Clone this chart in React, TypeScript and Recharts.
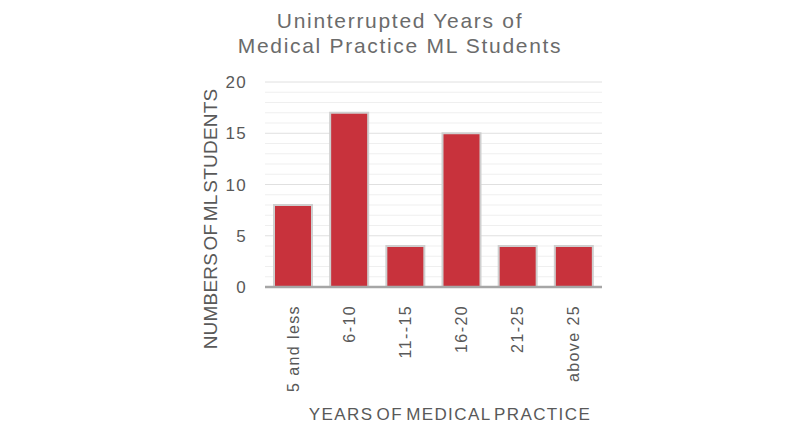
import React from "react";
import { BarChart, Bar, XAxis, YAxis, CartesianGrid } from "recharts";

const categories = ["5 and less", "6-10", "11--15", "16-20", "21-25", "above 25"];
const students = [8, 17, 4, 15, 4, 4];
const yTicks = [0, 5, 10, 15, 20];
const minorTicks = [1, 2, 3, 4, 6, 7, 8, 9, 11, 12, 13, 14, 16, 17, 18, 19];

const data = categories.map((c, i) => ({ name: c, value: students[i] }));

const FONT = "'Liberation Sans', Arial, Helvetica, sans-serif";
const TXT = "#595959";

const XTick = (props: any) => {
  const { x, y, payload } = props;
  return (
    <text
      x={x}
      y={y + 10}
      transform={`rotate(-90, ${x}, ${y + 10})`}
      textAnchor="end"
      dominantBaseline="central"
      fontFamily={FONT}
      fontSize={16}
      letterSpacing={1.4}
      fill={TXT}
    >
      {payload.value}
    </text>
  );
};

export default function App() {
  return (
    <div style={{ position: "absolute", left: 0, top: 0, width: 800, height: 438, background: "#fff" }}>
      <BarChart
        width={800}
        height={438}
        data={data}
        margin={{ top: 82, right: 198, bottom: 0, left: 0 }}
        barSize={38}
      >
        <CartesianGrid horizontalValues={minorTicks} vertical={false} stroke="#efefef" strokeWidth={1} />
        <CartesianGrid horizontalValues={yTicks} vertical={false} stroke="#e0e0e0" strokeWidth={1} />
        <XAxis
          dataKey="name"
          interval={0}
          tick={<XTick />}
          tickLine={false}
          axisLine={{ stroke: "#a6a6a6", strokeWidth: 2.5 }}
          height={151}
        />
        <YAxis
          width={265}
          domain={[0, 20]}
          ticks={yTicks}
          interval={0}
          axisLine={false}
          tickLine={false}
          tickSize={0}
          tickMargin={18}
          tick={{ fill: TXT, fontSize: 17, fontFamily: FONT, letterSpacing: 1.3 }}
        />
        <Bar dataKey="value" fill="#c8323c" stroke="#cfcfcf" strokeWidth={2} isAnimationActive={false} />
      </BarChart>
      <svg width={800} height={438} style={{ position: "absolute", left: 0, top: 0, pointerEvents: "none" }}>
        <text x={400} y={28} textAnchor="middle" fontFamily={FONT} fontSize={21} letterSpacing={1.7} fill="#6b6b6b">
          Uninterrupted Years of
        </text>
        <text x={400} y={53} textAnchor="middle" fontFamily={FONT} fontSize={21} letterSpacing={1.7} fill="#6b6b6b">
          Medical Practice ML Students
        </text>
        <text
          x={210}
          y={219}
          transform="rotate(-90, 210, 219)"
          textAnchor="middle"
          dominantBaseline="central"
          fontFamily={FONT}
          fontSize={19}
          letterSpacing={0.2}
          wordSpacing={-3}
          fill={TXT}
        >
          NUMBERS OF ML STUDENTS
        </text>
        <text
          x={450}
          y={420}
          textAnchor="middle"
          fontFamily={FONT}
          fontSize={17}
          letterSpacing={1.4}
          wordSpacing={-3}
          fill={TXT}
        >
          YEARS OF MEDICAL PRACTICE
        </text>
      </svg>
    </div>
  );
}
